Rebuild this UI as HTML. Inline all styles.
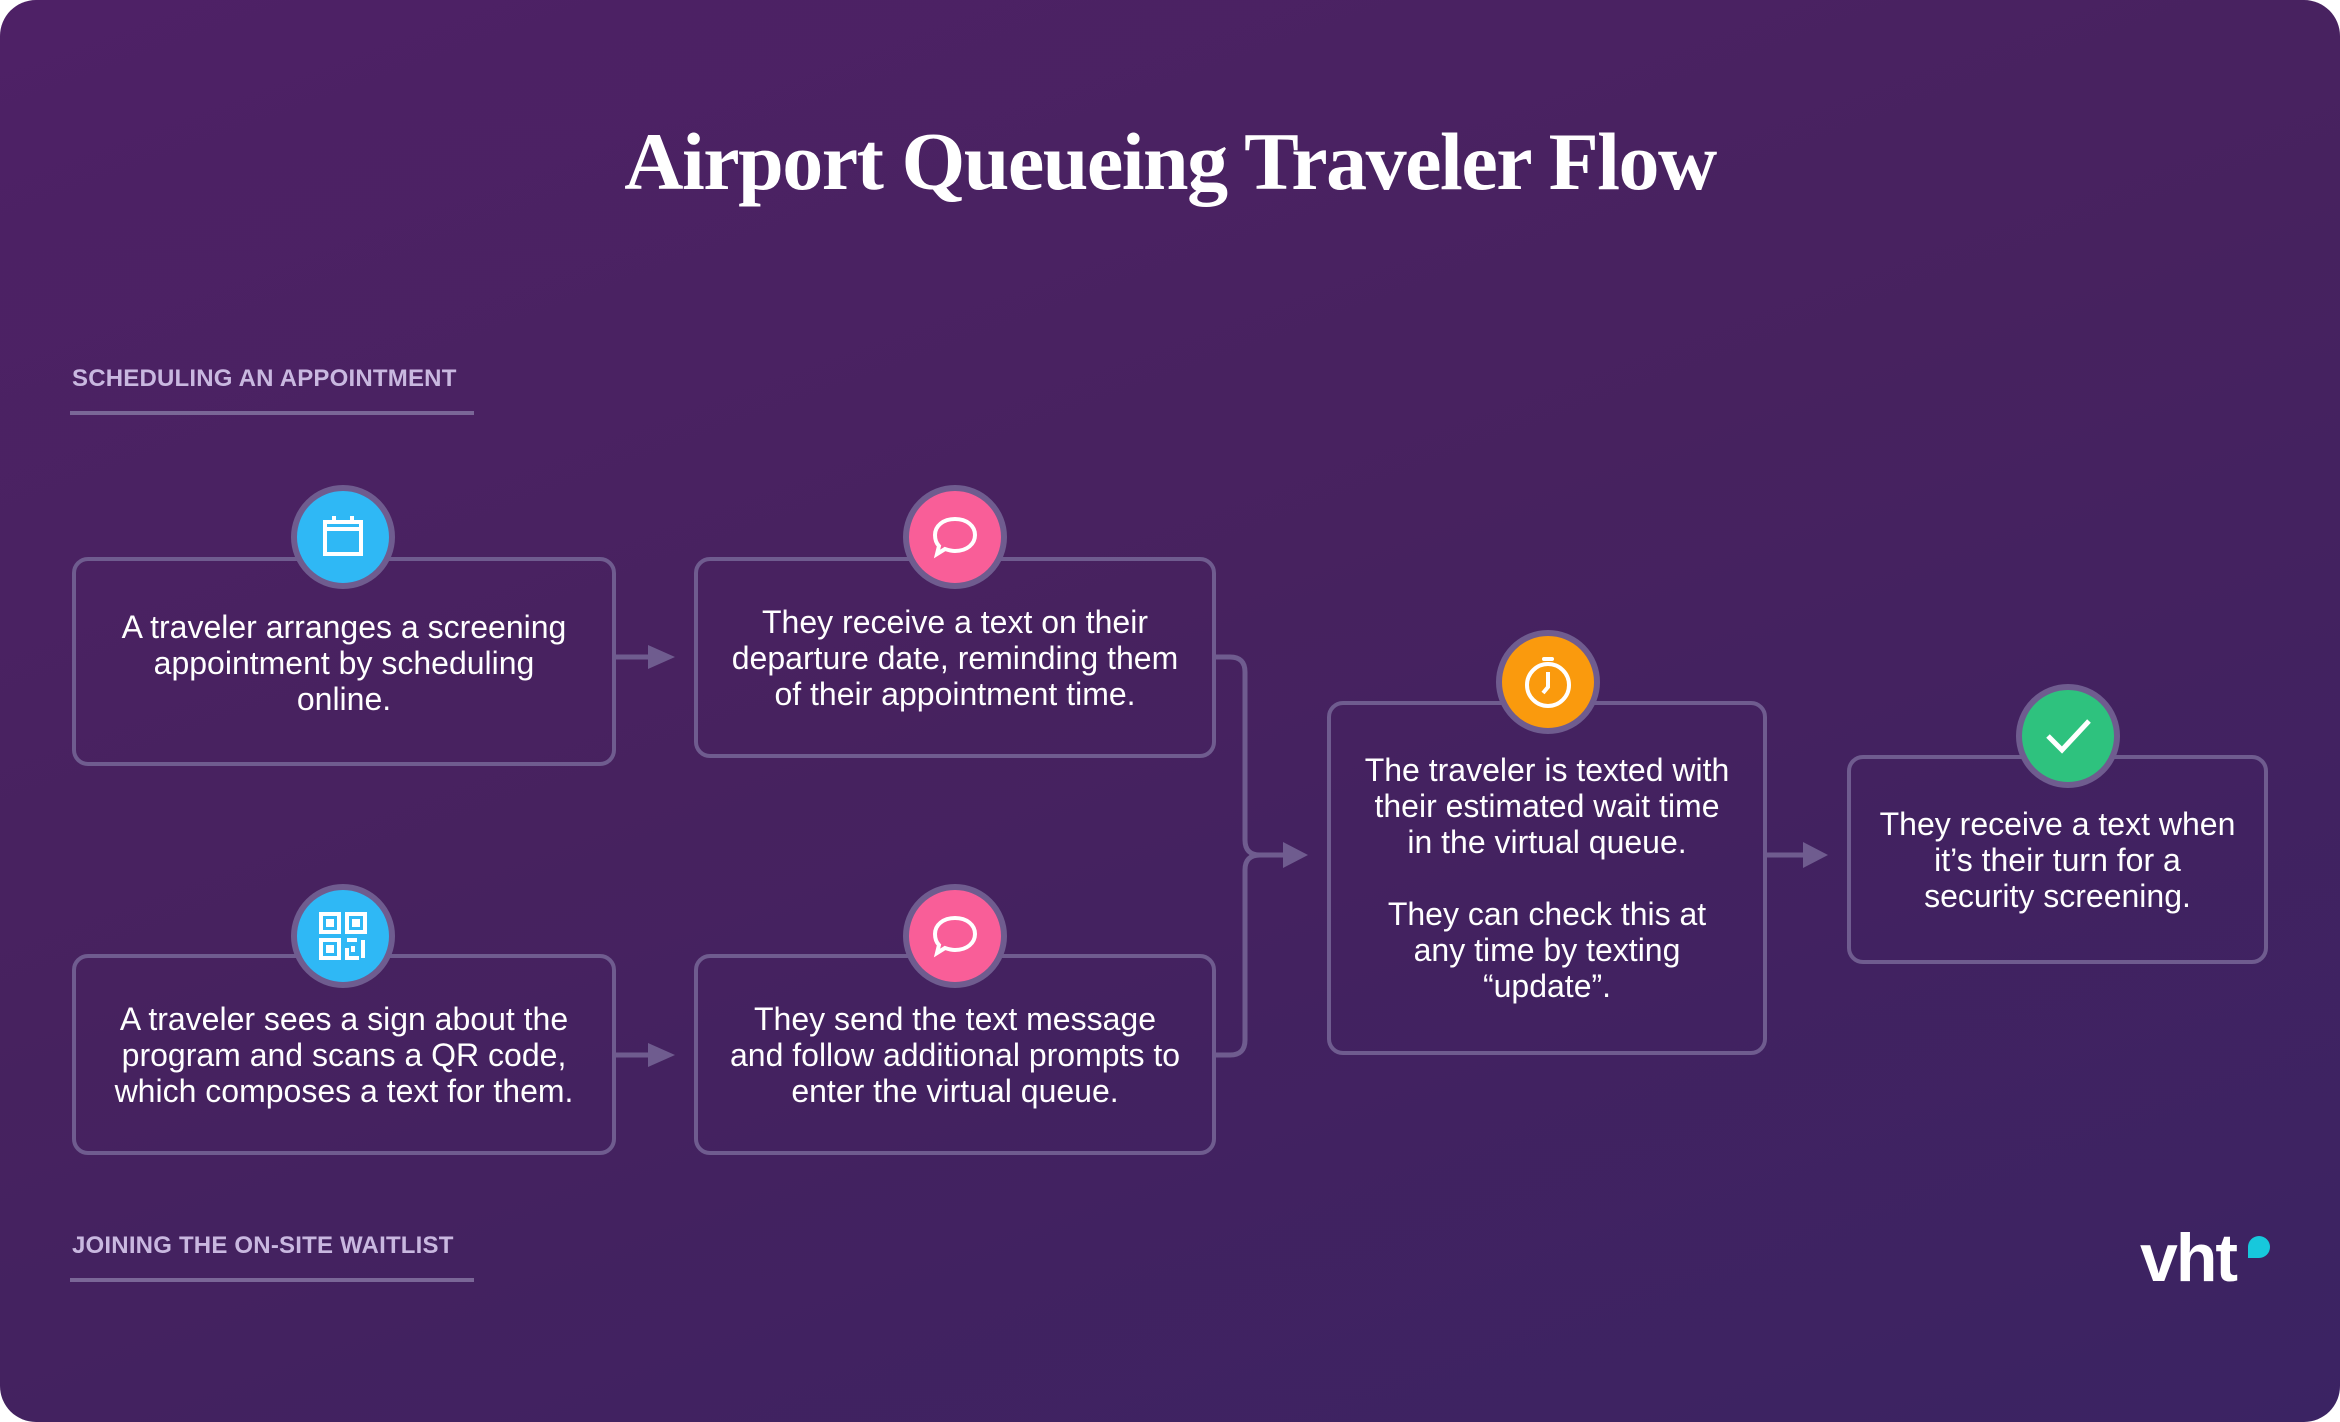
<!DOCTYPE html>
<html><head><meta charset="utf-8"><style>
html,body{margin:0;padding:0;background:#fff}
#p{position:relative;width:2340px;height:1422px;border-radius:36px;overflow:hidden;
background:linear-gradient(160deg,#4e2166 0%,#47225f 45%,#3b2363 100%);font-family:"Liberation Sans",sans-serif;color:#fff}
.t{position:absolute;left:0;width:2340px;top:112px;text-align:center;font-family:"Liberation Serif",serif;font-weight:bold;font-size:82px;letter-spacing:-1.5px;line-height:100px}
.lab{position:absolute;left:72px;font-size:24px;font-weight:bold;color:#c9b8e0;letter-spacing:0.2px}
.ul{position:absolute;left:70px;width:404px;height:4px;background:#7a6797}
.b{position:absolute;box-sizing:border-box;border:4px solid #6f5c8f;border-radius:16px;display:flex;align-items:center;justify-content:center;text-align:center;font-size:32px;line-height:36px;color:#fff;white-space:nowrap}
.c{position:absolute;width:104px;height:104px;box-sizing:border-box;border:6px solid #6f5c8f;border-radius:50%;display:flex;align-items:center;justify-content:center}
</style></head><body><div id="p">
<div class="t">Airport Queueing Traveler Flow</div>
<div class="lab" style="top:365px">SCHEDULING AN APPOINTMENT</div>
<div class="ul" style="top:411px"></div>
<div class="lab" style="top:1232px">JOINING THE ON-SITE WAITLIST</div>
<div class="ul" style="top:1278px"></div>

<svg style="position:absolute;left:0;top:0" width="2340" height="1422">
<g fill="none" stroke="#6f5c8f" stroke-width="5">
<path d="M616 657H650"/><path d="M616 1055H650"/>
<path d="M1216 657H1230Q1245 657 1245 672V840Q1245 855 1260 855H1285"/>
<path d="M1216 1055H1230Q1245 1055 1245 1040V870Q1245 855 1260 855"/>
<path d="M1767 855H1805"/>
</g>
<g fill="#6f5c8f">
<path d="M648 645L675 657L648 669Z"/><path d="M648 1043L675 1055L648 1067Z"/>
<path d="M1283 842L1308 855L1283 868Z"/><path d="M1803 842L1828 855L1803 868Z"/>
</g>
</svg>

<div class="b" style="left:72px;top:557px;width:544px;height:209px;padding-top:2px">A traveler arranges a screening<br>appointment by scheduling<br>online.</div>
<div class="b" style="left:694px;top:557px;width:522px;height:201px">They receive a text on their<br>departure date, reminding them<br>of their appointment time.</div>
<div class="b" style="left:72px;top:954px;width:544px;height:201px">A traveler sees a sign about the<br>program and scans a QR code,<br>which composes a text for them.</div>
<div class="b" style="left:694px;top:954px;width:522px;height:201px">They send the text message<br>and follow additional prompts to<br>enter the virtual queue.</div>
<div class="b" style="left:1327px;top:701px;width:440px;height:354px">The traveler is texted with<br>their estimated wait time<br>in the virtual queue.<br><br>They can check this at<br>any time by texting<br>“update”.</div>
<div class="b" style="left:1847px;top:755px;width:421px;height:209px">They receive a text when<br>it’s their turn for a<br>security screening.</div>

<div class="c" style="left:291px;top:485px;background:#2fb8f5"><svg width="50" height="50" viewBox="0 0 50 50" fill="none" stroke="#fff" stroke-width="4"><rect x="7" y="10" width="36" height="32"/><path d="M7 17H43M16 4V10M34 4V10"/></svg></div>
<div class="c" style="left:903px;top:485px;background:#f95e98"><svg width="56" height="56" viewBox="0 0 56 56" fill="none" stroke="#fff" stroke-width="4"><path d="M28 10C40 10 48 17 48 26S40 42 28 42C24 42 21 41 18 40L10 45L12 37C9 34 8 30 8 26C8 17 16 10 28 10Z"/></svg></div>
<div class="c" style="left:291px;top:884px;background:#2fb8f5"><svg width="56" height="56" viewBox="0 0 56 56" fill="none" stroke="#fff" stroke-width="4"><rect x="6" y="6" width="18" height="18"/><rect x="32" y="6" width="18" height="18"/><rect x="6" y="32" width="18" height="18"/><rect x="13" y="13" width="4" height="4"/><rect x="39" y="13" width="4" height="4"/><rect x="13" y="39" width="4" height="4"/><path d="M32 32H42M48 32V50M32 40V50H44M38 38V44"/></svg></div>
<div class="c" style="left:903px;top:884px;background:#f95e98"><svg width="56" height="56" viewBox="0 0 56 56" fill="none" stroke="#fff" stroke-width="4"><path d="M28 10C40 10 48 17 48 26S40 42 28 42C24 42 21 41 18 40L10 45L12 37C9 34 8 30 8 26C8 17 16 10 28 10Z"/></svg></div>
<div class="c" style="left:1496px;top:630px;background:#fa9a0d"><svg width="60" height="60" viewBox="0 0 60 60" fill="none" stroke="#fff" stroke-width="4"><circle cx="30" cy="33" r="21"/><path d="M26 7H34" stroke-linecap="round"/><path d="M30 20V35L25 41"/></svg></div>
<div class="c" style="left:2016px;top:684px;background:#2ec27e"><svg width="60" height="60" viewBox="0 0 60 60" fill="none" stroke="#fff" stroke-width="5"><path d="M10 30L24 44L51 15"/></svg></div>

<div style="position:absolute;left:2140px;top:1218px;font-size:68px;font-weight:bold;letter-spacing:-2px;line-height:80px">vht</div>
<div style="position:absolute;left:2248px;top:1236px;width:22px;height:22px;background:#17c8dc;border-radius:50% 50% 50% 0"></div>
</div></body></html>
